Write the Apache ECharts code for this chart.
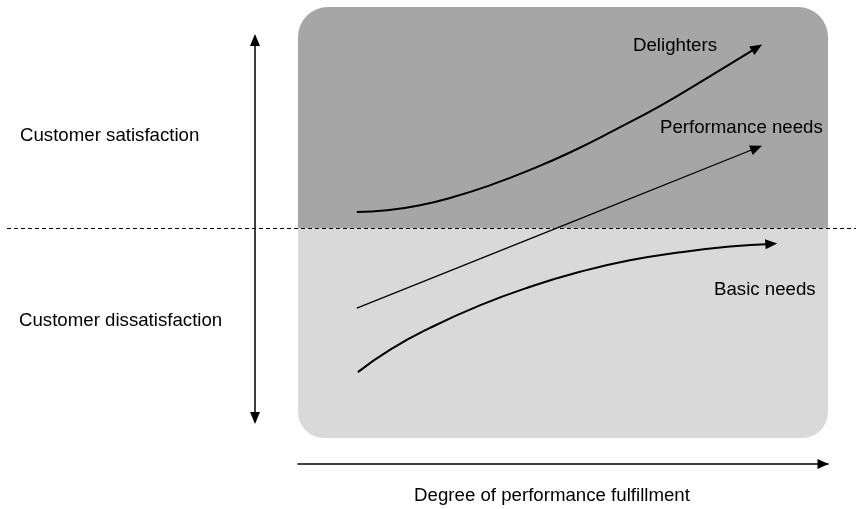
<!DOCTYPE html>
<html>
<head>
<meta charset="utf-8">
<title>Kano model</title>
<script src="https://cdn.jsdelivr.net/npm/echarts@6/dist/echarts.min.js"></script>
<style>
  html, body { margin: 0; padding: 0; background: #fff; }
  #kano { width: 856px; height: 509px; }
</style>
</head>
<body>
<div id="kano"></div>
<script>
// x = degree of performance fulfillment (0..10 across the box)
// y = satisfaction (+) / dissatisfaction (-), 0 on the dashed line
var xRange = [0, 10];
var yRange = [-4.75, 5];
var satisfactionBand = [0, 10, 0, 5];        // x0, x1, y0, y1
var dissatisfactionBand = [0, 10, -4.75, 0];

var delighters = [
  [1.11, 0.36], [1.68, 0.40], [2.28, 0.51], [2.93, 0.70], [3.63, 0.97], [4.37, 1.31],
  [5.15, 1.72], [5.98, 2.22], [6.86, 2.78], [7.77, 3.43], [8.66, 4.08]
];
var performanceNeeds = [[1.11, -1.81], [4.88, 0], [8.65, 1.81]];
var basicNeeds = [
  [1.13, -3.26], [1.74, -2.75], [2.49, -2.26], [3.43, -1.75], [4.38, -1.33],
  [5.32, -0.99], [6.26, -0.73], [7.21, -0.55], [8.15, -0.42], [8.93, -0.36]
];

var FONT = '"Liberation Sans", Arial, sans-serif';
var FONT_SIZE = 18.67;

var myChart = echarts.init(document.getElementById('kano'), null, { renderer: 'canvas' });

function label(text, x, y, align) {
  return {
    type: 'text',
    x: x,
    y: y,
    z: 100,
    silent: true,
    style: {
      text: text,
      fontSize: FONT_SIZE,
      fontFamily: FONT,
      fill: '#000',
      align: align || 'left',
      verticalAlign: 'middle',
      textAlign: align || 'left',
      textVerticalAlign: 'middle'
    }
  };
}

// last point gets the arrow head, rotated along the last segment
function withArrow(points, rotate) {
  return points.map(function (p, i) {
    if (i < points.length - 1) return p;
    return {
      value: p,
      symbol: 'triangle',
      symbolSize: [10, 12],
      symbolRotate: rotate || 0
    };
  });
}

function curve(name, points, width, rotate) {
  return {
    name: name,
    type: 'line',
    smooth: points.length > 3 ? 0.5 : false,
    symbol: 'none',
    clip: false,
    z: 5,
    lineStyle: { color: '#000', width: width },
    itemStyle: { color: '#000' },
    data: withArrow(points, rotate)
  };
}

function buildOption(rot, zeroY) {
  return {
    animation: false,
    backgroundColor: '#fff',
    grid: { left: 298, right: 28, top: 7, bottom: 71 },
    xAxis: {
      type: 'value',
      min: xRange[0],
      max: xRange[1],
      offset: 26,
      axisLine: {
        show: true,
        onZero: false,
        symbol: ['none', 'triangle'],
        symbolSize: [10, 11],
        symbolOffset: [0, -5],
        lineStyle: { color: '#000', width: 1.5 }
      },
      axisTick: { show: false },
      axisLabel: { show: false },
      splitLine: { show: false }
    },
    yAxis: {
      type: 'value',
      min: yRange[0],
      max: yRange[1],
      show: false,
      splitLine: { show: false }
    },
    graphic: [
      // satisfaction axis (double arrow)
      { type: 'line', silent: true, z: 50, shape: { x1: 255, y1: 44, x2: 255, y2: 414 }, style: { stroke: '#000', lineWidth: 1.5 } },
      { type: 'polygon', silent: true, z: 50, shape: { points: [[255, 34], [250, 46], [260, 46]] }, style: { fill: '#000' } },
      { type: 'polygon', silent: true, z: 50, shape: { points: [[255, 424], [250, 412], [260, 412]] }, style: { fill: '#000' } },
      // dashed neutral line
      { type: 'line', silent: true, z: 50, shape: { x1: 7, y1: zeroY, x2: 856, y2: zeroY }, style: { stroke: '#000', lineWidth: 1, lineDash: [4, 3] } },
      label('Customer satisfaction', 20, 136),
      label('Customer dissatisfaction', 19, 321),
      label('Delighters', 633, 46),
      label('Performance needs', 660, 128),
      label('Basic needs', 714, 290),
      label('Degree of performance fulfillment', 552, 496, 'center')
    ],
    series: [
      {
        type: 'custom',
        z: 1,
        silent: true,
        encode: { x: [0, 1], y: [2, 3] },
        renderItem: function (params, api) {
          var a = api.coord([api.value(0), api.value(3)]);
          var b = api.coord([api.value(1), api.value(2)]);
          var top = params.dataIndex === 0;
          return {
            type: 'rect',
            shape: {
              x: a[0], y: a[1], width: b[0] - a[0], height: b[1] - a[1],
              r: top ? [30, 30, 0, 0] : [0, 0, 26, 26]
            },
            style: { fill: top ? '#a6a6a6' : '#d9d9d9' }
          };
        },
        data: [satisfactionBand, dissatisfactionBand]
      },
      curve('Delighters', delighters, 2, rot[0]),
      curve('Performance needs', performanceNeeds, 1.3, rot[1]),
      curve('Basic needs', basicNeeds, 2, rot[2])
    ]
  };
}

myChart.setOption(buildOption([0, 0, 0], 228.5));

// arrow head angle from the last segment in pixels
function endAngle(points) {
  var p = myChart.convertToPixel({ gridIndex: 0 }, points[points.length - 2]);
  var q = myChart.convertToPixel({ gridIndex: 0 }, points[points.length - 1]);
  var deg = Math.atan2(-(q[1] - p[1]), q[0] - p[0]) * 180 / Math.PI;
  return deg - 90;
}
var zeroY = Math.round(myChart.convertToPixel({ yAxisIndex: 0 }, 0)) + 0.5;
myChart.setOption(buildOption([endAngle(delighters), endAngle(performanceNeeds), endAngle(basicNeeds)], zeroY), true);

window.addEventListener('resize', function () {
  myChart.resize();
});
</script>
</body>
</html>
